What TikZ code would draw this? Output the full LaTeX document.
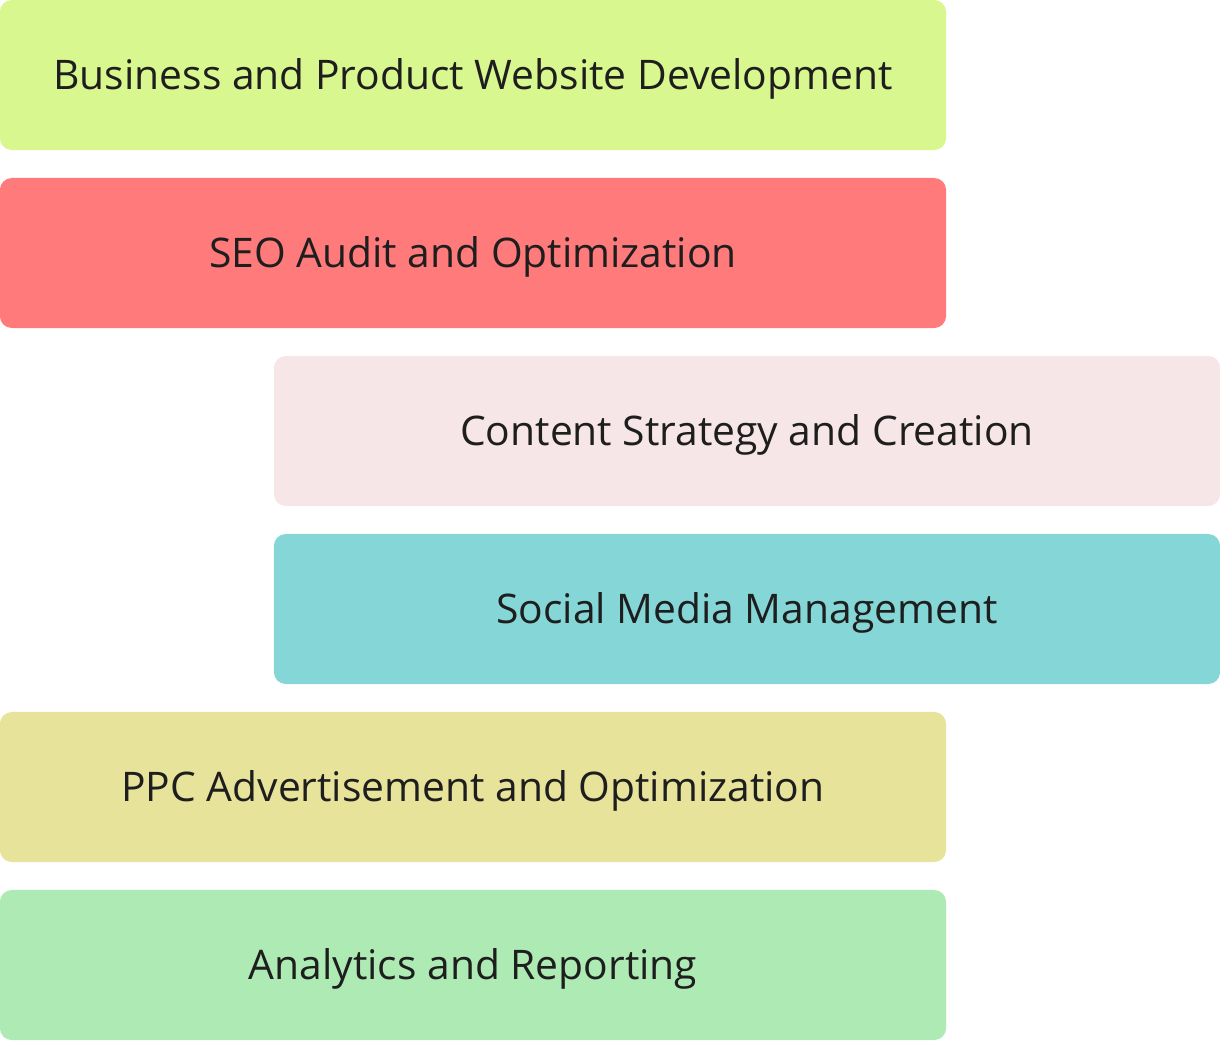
\documentclass[tikz,border=0pt]{standalone}
\usepackage{fontspec}
\setmainfont{Open Sans}
\usepackage{tikz}
\definecolor{svclime}{RGB}{217,247,143}
\definecolor{svcred}{RGB}{255,122,122}
\definecolor{svcpink}{RGB}{247,230,231}
\definecolor{svcteal}{RGB}{133,214,214}
\definecolor{svckhaki}{RGB}{232,227,154}
\definecolor{svcgreen}{RGB}{174,234,180}
\definecolor{svctext}{RGB}{30,30,30}

\begin{document}
\begin{tikzpicture}[x=0.025cm, y=-0.025cm,
    svcbox/.style={rounded corners=0.3cm, inner sep=0pt, minimum width=23.65cm,
      minimum height=3.75cm, text=svctext, text height=21pt, text depth=0pt,
      font=\fontsize{29}{34}\selectfont}]
                \useasboundingbox (0,0) rectangle (1220,1040);

                % Services
                \node[svcbox, fill=svclime] (web) at (473,75) {Business and Product Website Development};
                \node[svcbox, fill=svcred] (seo) at (473,253) {SEO Audit and Optimization};
                \node[svcbox, fill=svcpink] (content) at (747,431) {Content Strategy and Creation};
                \node[svcbox, fill=svcteal] (social) at (747,609) {Social Media Management};
                \node[svcbox, fill=svckhaki] (ppc) at (473,787) {PPC Advertisement and Optimization};
                \node[svcbox, fill=svcgreen] (analytics) at (473,965) {Analytics and Reporting};
            \end{tikzpicture}
\end{document}
